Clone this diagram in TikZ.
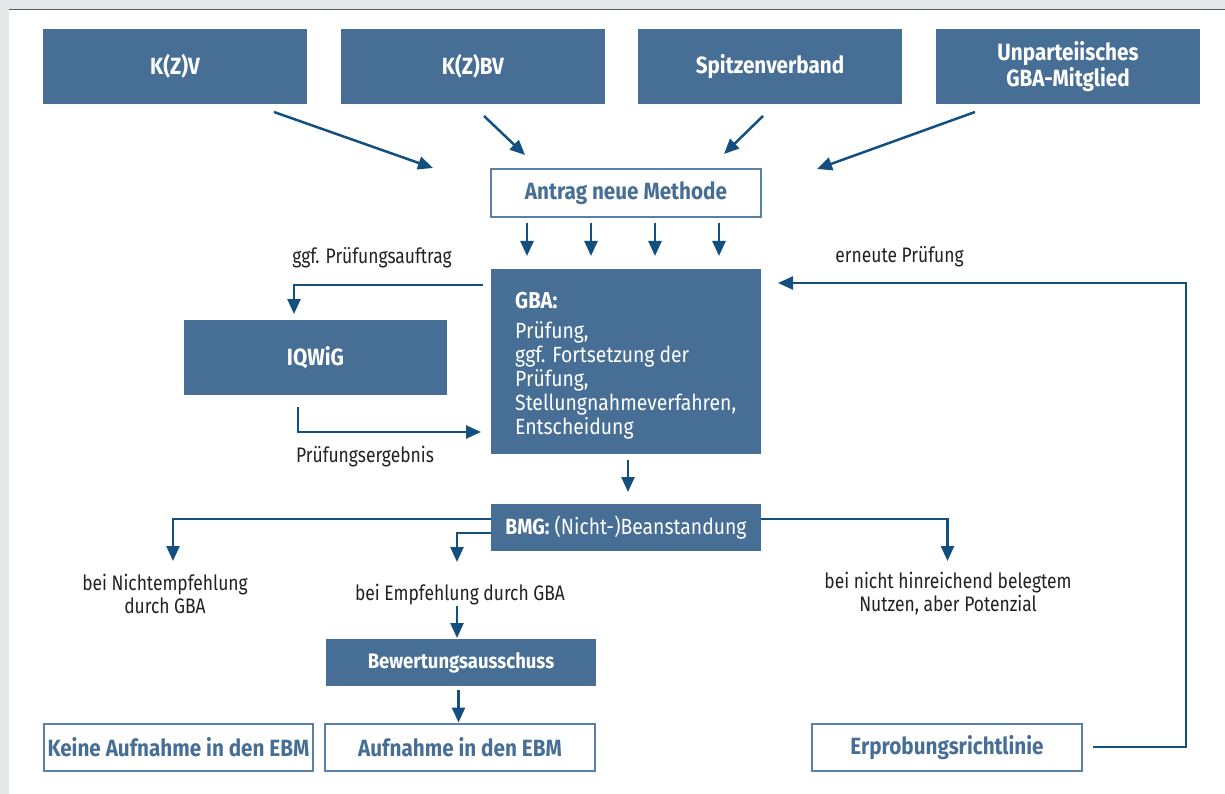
\documentclass[tikz,border=0pt]{standalone}
\usepackage{fontspec}
\setmainfont{Fira Sans}[FakeStretch=0.83, BoldFeatures={FakeStretch=0.88}]
\newfontfamily\gbafont{Fira Sans}[FakeStretch=0.88]
\usetikzlibrary{arrows.meta}
\definecolor{boxblue}{HTML}{476F96}
\definecolor{edgeblue}{HTML}{5A80A6}
\definecolor{arrblue}{HTML}{14507F}
\definecolor{txtgray}{HTML}{222222}
\definecolor{bggray}{HTML}{E6E7E9}
\definecolor{topline}{HTML}{5A5B5D}
\begin{document}
\begin{tikzpicture}[x=1pt,y=-1pt,
  fillbox/.style={fill=boxblue, text=white, font=\fontsize{23.5}{23.5}\selectfont\bfseries,
    inner sep=0pt, align=center, minimum width=264pt, minimum height=75pt},
  wbox/.style={draw=edgeblue, line width=1.2pt, fill=white, text=boxblue,
    font=\fontsize{23.5}{23.5}\selectfont\bfseries, inner sep=0pt, align=center,
    minimum width=270pt, minimum height=47pt},
  lbl/.style={text=txtgray, font=\fontsize{21}{23}\selectfont, inner sep=0pt, align=center},
  conn/.style={draw=arrblue, line width=2.5pt, -{Triangle[length=15pt,width=13pt]}}
]
\useasboundingbox (0,0) rectangle (1225,794);
\fill[bggray] (0,0) rectangle (1225,794);
\fill[white] (8.7,10) rectangle (1225,794);
\draw[topline, line width=1.6pt] (8.7,9.6) -- (1225,9.6);

% top boxes
\node[fillbox] (kzv) at (175,66.5) {K(Z)V};
\node[fillbox] (kzbv) at (473,66.5) {K(Z)BV};
\node[fillbox] (spitz) at (770,66.5) {Spitzenverband};
\node[fillbox] (unp) at (1068,66.5) {Unparteiisches\\GBA-Mitglied};

\node[wbox, minimum height=48pt] (antrag) at (626,193) {Antrag neue Methode};

\node[fillbox, minimum width=270pt, minimum height=185pt] (gba) at (626,361.5) {};
\node[text=white, font=\gbafont\fontsize{22}{24}\selectfont, inner sep=0pt, align=left, anchor=north west]
  (gbatext) at (515,292) {{\fontsize{23}{24}\selectfont\bfseries GBA:}\\[6pt]Prüfung,\\ggf. Fortsetzung der\\Prüfung,\\Stellungnahmeverfahren,\\Entscheidung};

\node[fillbox, minimum width=263pt] (iqwig) at (315.5,357.5) {IQWiG};

\node[fillbox, minimum width=270pt, minimum height=47pt, font=\gbafont\fontsize{22}{23}\selectfont] (bmg) at (626,527.5) {\textbf{BMG:} (Nicht-)Beanstandung};

\node[fillbox, minimum width=270pt, minimum height=47pt, font=\fontsize{21}{23}\selectfont\bfseries] (bew) at (461,662.5) {Bewertungsausschuss};

\node[wbox, minimum width=269pt] (keine) at (178.5,747.5) {Keine Aufnahme in den EBM};
\node[wbox] (aufn) at (460,747.5) {Aufnahme in den EBM};
\node[wbox] (erpr) at (947,747.5) {Erprobungsrichtlinie};

% labels
\node[lbl, anchor=base] (tggf) at (372,263) {ggf. Prüfungsauftrag};
\node[lbl, anchor=base] (tern) at (899.5,262) {erneute Prüfung};
\node[lbl, anchor=base] (terg) at (365,462.7) {Prüfungsergebnis};
\node[lbl] (tnicht) at (165,593.5) {bei Nichtempfehlung\\durch GBA};
\node[lbl, anchor=base] (temp) at (460,600) {bei Empfehlung durch GBA};
\node[lbl] (tpot) at (948,593.5) {bei nicht hinreichend belegtem\\Nutzen, aber Potenzial};

% top arrows
\coordinate (a1s) at (274,112); \coordinate (a1e) at (433,168);
\coordinate (a2s) at (484,116); \coordinate (a2e) at (525,155);
\coordinate (a3s) at (763,116); \coordinate (a3e) at (724,154);
\coordinate (a4s) at (975,112); \coordinate (a4e) at (817,169);
\draw[conn] (a1s) -- (a1e);
\draw[conn] (a2s) -- (a2e);
\draw[conn] (a3s) -- (a3e);
\draw[conn] (a4s) -- (a4e);

% antrag -> gba
\foreach \i/\x in {1/527,2/591,3/655,4/719}{
  \coordinate (d\i s) at (\x,223); \coordinate (d\i e) at (\x,256);
  \draw[conn] (d\i s) -- (d\i e);
}

% gba -> iqwig
\coordinate (ggfs) at (483,285); \coordinate (ggfe) at (294,314);
\draw[conn] (ggfs) -| (ggfe);
% iqwig -> gba
\coordinate (ergs) at (298,407); \coordinate (erge) at (481,432);
\draw[conn] (ergs) |- (erge);
% gba -> bmg
\coordinate (gbs) at (628,460); \coordinate (gbe) at (628,492);
\draw[conn] (gbs) -- (gbe);

% bmg branches
\coordinate (b1e) at (173,561);
\coordinate (b2e) at (457,562);
\coordinate (b3e) at (947.5,561);
\draw[conn] ([yshift=8.5pt]bmg.west) -| (b1e);
\draw[conn] ([yshift=-5.5pt]bmg.west) -| (b2e);
\draw[conn] ([yshift=8.5pt]bmg.east) -| (b3e);

% empfehlung -> bew -> aufnahme
\coordinate (e1s) at (457,606); \coordinate (e1e) at (457,638);
\draw[conn] (e1s) -- (e1e);
\coordinate (e2s) at (458.5,690); \coordinate (e2e) at (458.5,722.5);
\draw[conn] (e2s) -- (e2e);

% erprobung loop
\coordinate (los) at (1093,747);
\coordinate (loc) at (1186,283);
\coordinate (loe) at (778,283);
\draw[conn] (los) -| (loc) -- (loe);
\end{tikzpicture}
\end{document}
